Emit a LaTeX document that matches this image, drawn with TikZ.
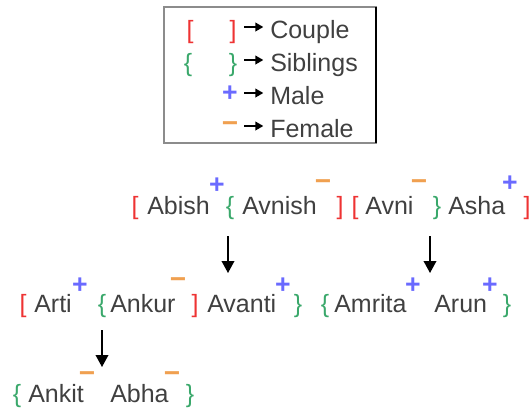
\documentclass[tikz,border=0pt]{standalone}
\usepackage{fontspec}
\setmainfont{Liberation Sans}
\usetikzlibrary{shapes,arrows.meta}

\definecolor{txtgray}{HTML}{404040}
\definecolor{cplred}{HTML}{EE3333}
\definecolor{sibgreen}{HTML}{3AA86B}
\definecolor{maleblue}{HTML}{6A6AFF}
\definecolor{femorange}{HTML}{F0A050}

\begin{document}
\begin{tikzpicture}[x=0.75pt,y=-0.75pt,
		person/.style={anchor=base west,inner sep=0pt,text=txtgray,font=\fontsize{18.75}{22}\selectfont},
		cpl/.style={anchor=base,inner sep=0pt,text=cplred,font=\fontsize{18.75}{22}\selectfont},
		sib/.style={anchor=base,inner sep=0pt,text=sibgreen,font=\fontsize{18.75}{22}\selectfont},
		male/.style={inner sep=0pt,text=maleblue,font=\fontsize{20}{22}\selectfont\bfseries},
		fem/.style={inner sep=0pt,text=femorange,font=\fontsize{21}{22}\selectfont\bfseries},
		legarrow/.style={-{Triangle[width=6.5pt,length=6pt]},line width=1.3pt,shorten >=5pt},
		child/.style={-{Triangle[width=9.5pt,length=9pt]},line width=1.1pt}]

		\useasboundingbox (0,0) rectangle (530,412);

		% legend
		\draw[black!45,line width=1pt] (164,7) rectangle (376,143);
		\draw[black,line width=1.2pt] (376,7) -- (376,143);

		\node[cpl] (lcl) at (190,38) {[};
		\node[cpl] (lcr) at (233,38) {]};
		\node[sib] (lsl) at (188,71) {\{};
		\node[sib] (lsr) at (233,71) {\}};
		\node[male] (lm) at (230,94) {+};
		\node[fem] (lf) at (230,127) {−};
		\foreach \y/\t [count=\i] in {38/Couple,71/Siblings,104/Male,137/Female}{
			\node[person] (lt\i) at (270,\y) {\t};
			\coordinate (la\i) at (244,\y-11);
			\draw[legarrow] (la\i) -- (la\i -| lt\i.west);
		}

		% first generation
		\node[cpl] (c1l) at (135,214) {[};
		\node[person] (abish) at (147,214) {Abish};
		\node[male] at (217,186) {+};
		\node[sib] (s1l) at (230,214) {\{};
		\node[person] (avnish) at (242,214) {Avnish};
		\node[fem] at (323,185) {−};
		\node[cpl] (c1r) at (340,214) {]};
		\node[cpl] (c2l) at (355,214) {[};
		\node[person] (avni) at (365,214) {Avni};
		\node[fem] at (419,185) {−};
		\node[sib] (s1r) at (437,214) {\}};
		\node[person] (asha) at (448,214) {Asha};
		\node[male] at (510,184) {+};
		\node[cpl] (c2r) at (527,214) {]};

		\coordinate (p1) at (228,236);
		\coordinate (k1) at (228,273);
		\draw[child] (p1) -- (k1);
		\coordinate (p2) at (430,236);
		\coordinate (k2) at (430,273);
		\draw[child] (p2) -- (k2);

		% second generation
		\node[cpl] (c3l) at (23,312) {[};
		\node[person] (arti) at (34,312) {Arti};
		\node[male] at (80,286) {+};
		\node[sib] (s2l) at (102,312) {\{};
		\node[person] (ankur) at (110,312) {Ankur};
		\node[fem] at (178,283) {−};
		\node[cpl] (c3r) at (195,312) {]};
		\node[person] (avanti) at (207,312) {Avanti};
		\node[male] at (283,286) {+};
		\node[sib] (s2r) at (298,312) {\}};
		\node[sib] (s3l) at (325,312) {\{};
		\node[person] (amrita) at (334,312) {Amrita};
		\node[male] at (413,286) {+};
		\node[person] (arun) at (434,312) {Arun};
		\node[male] at (490,286) {+};
		\node[sib] (s3r) at (507,312) {\}};

		\coordinate (p3) at (102,330);
		\coordinate (k3) at (102,367);
		\draw[child] (p3) -- (k3);

		% third generation
		\node[sib] (s4l) at (17,402) {\{};
		\node[person] (ankit) at (28,402) {Ankit};
		\node[fem] at (87,377) {−};
		\node[person] (abha) at (110,402) {Abha};
		\node[fem] at (172,377) {−};
		\node[sib] (s4r) at (190,402) {\}};

	\end{tikzpicture}
\end{document}
